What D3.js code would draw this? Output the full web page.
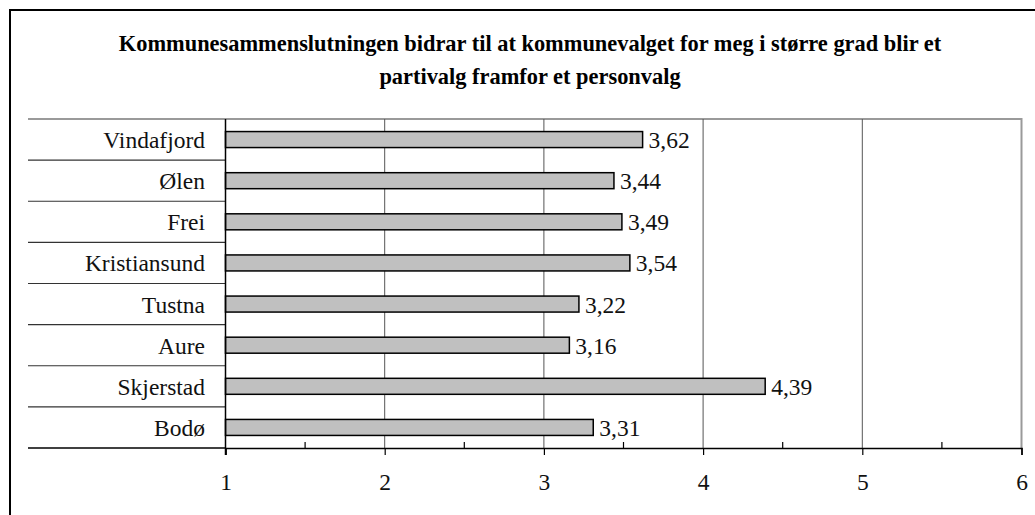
<!DOCTYPE html>
<html>
<head>
<meta charset="utf-8">
<script src="https://cdn.jsdelivr.net/npm/d3@7"></script>
<style>
  body { margin: 0; background: #fff; }
  svg { display: block; }
  svg text { font-family: "Liberation Serif", "DejaVu Serif", serif; }
</style>
</head>
<body>
<svg width="1035" height="515"></svg>
<script>
const titleLines = [
  "Kommunesammenslutningen bidrar til at kommunevalget for meg i større grad blir et",
  "partivalg framfor et personvalg"
];
const categories = ["Vindafjord", "Ølen", "Frei", "Kristiansund", "Tustna", "Aure", "Skjerstad", "Bodø"];
const values = [3.62, 3.44, 3.49, 3.54, 3.22, 3.16, 4.39, 3.31];
const tickValues = [1, 2, 3, 4, 5, 6];
const minorTicks = [1.5, 2.5, 3.5, 4.5, 5.5];

const svg = d3.select("svg");

const plotLeft = 225.5, plotRight = 1021.5, plotTop = 119, plotBottom = 448;
const labelLeft = 28;

const x = d3.scaleLinear().domain([1, 6]).range([plotLeft, plotRight]);
const y = d3.scaleBand().domain(categories).range([plotTop, plotBottom]).padding(0);

// outer frame
svg.append("rect")
  .attr("x", 10).attr("y", 10)
  .attr("width", 1040).attr("height", 520)
  .attr("fill", "none").attr("stroke", "#000").attr("stroke-width", 2);

// title
svg.append("g").selectAll("text")
  .data(titleLines)
  .join("text")
  .attr("x", 530)
  .attr("y", (d, i) => 51 + i * 33)
  .attr("text-anchor", "middle")
  .attr("font-weight", "bold")
  .attr("font-size", 22.4)
  .attr("fill", "#000")
  .text(d => d);

// plot border (top and right)
svg.append("path")
  .attr("d", `M${labelLeft},${plotTop}H${plotRight}V${plotBottom}`)
  .attr("fill", "none").attr("stroke", "#9a9a9a").attr("stroke-width", 2);

// gridlines
svg.append("g").selectAll("line")
  .data(tickValues.slice(1, -1))
  .join("line")
  .attr("x1", d => x(d)).attr("x2", d => x(d))
  .attr("y1", plotTop).attr("y2", plotBottom)
  .attr("stroke", "#555").attr("stroke-width", 1);

// row separators in the label column
svg.append("g").selectAll("line")
  .data(categories.slice(1).map(c => y(c)))
  .join("line")
  .attr("x1", labelLeft).attr("x2", plotLeft)
  .attr("y1", d => d).attr("y2", d => d)
  .attr("stroke", "#333").attr("stroke-width", 1.2);

// category labels
svg.append("g").selectAll("text")
  .data(categories)
  .join("text")
  .attr("x", 205)
  .attr("y", d => y(d) + y.bandwidth() / 2 + 8.5)
  .attr("text-anchor", "end")
  .attr("font-size", 23.5)
  .attr("fill", "#111")
  .text(d => d);

// bars
const barH = 16;
svg.append("g").selectAll("rect")
  .data(values)
  .join("rect")
  .attr("x", x(1))
  .attr("y", (d, i) => y(categories[i]) + (y.bandwidth() - barH) / 2)
  .attr("width", d => x(d) - x(1))
  .attr("height", barH)
  .attr("fill", "#c0c0c0")
  .attr("stroke", "#000")
  .attr("stroke-width", 1.5);

// value labels
svg.append("g").selectAll("text")
  .data(values)
  .join("text")
  .attr("x", d => x(d) + 6)
  .attr("y", (d, i) => y(categories[i]) + y.bandwidth() / 2 + 8.5)
  .attr("font-size", 23.5)
  .attr("fill", "#111")
  .text(d => d.toFixed(2).replace(".", ","));

// x axis
const axis = d3.axisBottom(x)
  .tickValues(tickValues)
  .tickSize(7)
  .tickPadding(18)
  .tickFormat(d3.format("d"));
const ax = svg.append("g")
  .attr("transform", `translate(0,${plotBottom})`)
  .call(axis);
ax.attr("font-family", null);
ax.select(".domain").attr("stroke", "#000").attr("stroke-width", 1.5);
ax.selectAll(".tick line").attr("stroke", "#000").attr("stroke-width", 1.2);
ax.selectAll(".tick text")
  .attr("font-size", 23.5)
  .attr("fill", "#111");

// minor ticks pointing up
svg.append("g").selectAll("line")
  .data(minorTicks)
  .join("line")
  .attr("x1", d => x(d)).attr("x2", d => x(d))
  .attr("y1", plotBottom - 6).attr("y2", plotBottom)
  .attr("stroke", "#000").attr("stroke-width", 1.2);

// y axis line
svg.append("line")
  .attr("x1", plotLeft).attr("x2", plotLeft)
  .attr("y1", plotTop).attr("y2", plotBottom + 7)
  .attr("stroke", "#000").attr("stroke-width", 1.5);

// label column bottom line extends to the left
svg.append("line")
  .attr("x1", labelLeft).attr("x2", plotLeft)
  .attr("y1", plotBottom).attr("y2", plotBottom)
  .attr("stroke", "#000").attr("stroke-width", 1.5);
</script>
</body>
</html>
